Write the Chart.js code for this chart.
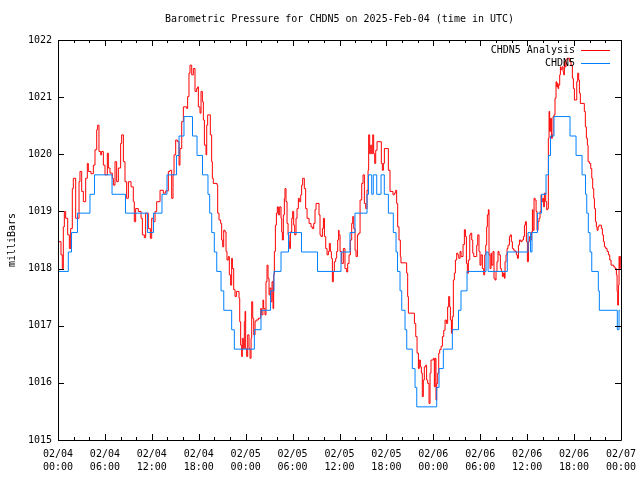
<!DOCTYPE html>
<html>
<head>
<meta charset="utf-8">
<script src="https://cdn.jsdelivr.net/npm/chart.js@4.4.1/dist/chart.umd.min.js"></script>
<style>
  html, body { margin: 0; padding: 0; background: #fff; }
  #wrap { width: 640px; height: 480px; }
</style>
</head>
<body>
<div id="wrap"><canvas id="pressureChart" width="640" height="480"></canvas></div>
<script>
// Barometric pressure, CHDN5, 3 days from 2025-02-04 00:00 UTC.
// x values are hours since 02/04 00:00, y values are millibars.

const chartTitle = 'Barometric Pressure for CHDN5 on 2025-Feb-04 (time in UTC)';
const yLabel = 'milliBars';
const seriesNames = ['CHDN5 Analysis', 'CHDN5'];

const tickDates = ['02/04', '02/04', '02/04', '02/04', '02/05', '02/05', '02/05', '02/05',
  '02/06', '02/06', '02/06', '02/06', '02/07'];
const tickTimes = ['00:00', '06:00', '12:00', '18:00', '00:00', '06:00', '12:00', '18:00',
  '00:00', '06:00', '12:00', '18:00', '00:00'];

// CHDN5 Analysis (red)
const analysisHours = [
  0.00, 0.38, 0.55, 0.68, 0.81, 0.98, 1.24, 1.45, 1.62, 1.83, 1.96, 2.26, 2.69, 2.81, 3.03, 3.24,
  3.54, 3.75, 3.88, 4.22, 4.52, 4.73, 4.95, 5.07, 5.24, 5.46, 5.58, 5.80, 6.01, 6.31, 6.44, 6.65,
  6.95, 7.08, 7.29, 7.50, 7.72, 8.01, 8.14, 8.36, 8.57, 8.78, 9.00, 9.34, 9.63, 9.76, 9.93, 10.27,
  10.62, 10.79, 11.04, 11.21, 11.55, 11.81, 11.98, 12.19, 12.41, 12.62, 13.05, 13.47, 13.77, 14.11,
  14.32, 14.54, 14.71, 14.84, 15.05, 15.26, 15.48, 15.60, 15.82, 16.03, 16.46, 16.58, 16.75, 16.88,
  17.10, 17.31, 17.52, 17.73, 17.86, 17.95, 18.16, 18.29, 18.46, 18.59, 18.72, 18.93, 19.02, 19.14,
  19.48, 19.65, 19.74, 19.86, 20.34, 20.42, 20.59, 20.80, 20.93, 21.06, 21.19, 21.36, 21.49, 21.61,
  21.78, 21.91, 22.08, 22.21, 22.30, 22.47, 22.64, 22.81, 23.15, 23.24, 23.36, 23.49, 23.57, 23.70,
  23.83, 23.92, 24.00, 24.13, 24.26, 24.43, 24.56, 24.69, 24.77, 24.90, 25.03, 25.20, 25.32, 25.62,
  25.92, 26.04, 26.21, 26.30, 26.47, 26.60, 26.73, 26.86, 26.99, 27.11, 27.24, 27.37, 27.50, 27.58,
  27.67, 27.80, 27.93, 28.05, 28.18, 28.35, 28.52, 28.61, 28.69, 28.82, 28.95, 29.03, 29.16, 29.29,
  29.42, 29.54, 29.63, 29.72, 29.89, 30.01, 30.14, 30.27, 30.44, 30.57, 30.74, 30.86, 31.04, 31.16,
  31.29, 31.50, 31.67, 31.85, 32.11, 32.36, 32.53, 32.70, 32.87, 33.00, 33.38, 33.51, 33.64, 33.81,
  33.94, 34.07, 34.24, 34.41, 34.58, 34.70, 34.83, 34.96, 35.09, 35.21, 35.34, 35.51, 35.64, 35.77,
  35.89, 35.94, 36.07, 36.28, 36.49, 36.70, 36.92, 37.05, 37.22, 37.39, 37.56, 37.69, 37.82, 37.99,
  38.12, 38.29, 38.45, 38.63, 38.84, 39.01, 39.18, 39.35, 39.52, 39.65, 39.73, 39.86, 39.99, 40.12,
  40.25, 40.37, 40.50, 40.63, 40.80, 41.35, 41.48, 41.61, 41.74, 42.25, 42.46, 42.84, 43.01, 43.18,
  43.31, 43.44, 43.61, 43.78, 43.86, 44.59, 44.72, 44.81, 45.58, 45.75, 45.92, 46.09, 46.21, 46.34,
  46.47, 46.59, 46.72, 46.85, 47.02, 47.14, 47.28, 47.45, 47.58, 47.70, 48.00, 48.13, 48.22, 48.34,
  48.43, 48.56, 48.69, 48.81, 48.99, 49.16, 49.33, 49.50, 49.67, 49.83, 49.96, 50.09, 50.18, 50.31,
  50.43, 50.56, 50.69, 50.82, 50.99, 51.12, 51.25, 51.42, 51.55, 51.80, 51.97, 52.10, 52.23, 52.35,
  52.48, 52.66, 52.78, 52.91, 53.04, 53.17, 53.55, 53.68, 53.84, 53.97, 54.10, 54.27, 54.44, 54.57,
  54.70, 54.82, 54.91, 55.04, 55.12, 55.25, 55.38, 55.46, 55.63, 55.76, 55.89, 56.02, 56.14, 56.27,
  56.40, 56.57, 56.70, 56.83, 56.96, 57.09, 57.17, 57.30, 57.43, 57.55, 57.73, 57.85, 57.98, 58.11,
  58.28, 58.45, 58.62, 58.75, 58.88, 59.01, 59.18, 59.35, 59.52, 59.65, 59.77, 59.90, 60.03, 60.16,
  60.28, 60.41, 60.54, 60.67, 60.75, 60.88, 61.01, 61.14, 61.26, 61.39, 61.52, 61.65, 61.77, 61.86,
  61.99, 62.11, 62.20, 62.37, 62.50, 62.63, 62.71, 62.80, 62.88, 62.97, 63.10, 63.22, 63.31, 63.43,
  63.56, 63.69, 63.78, 63.86, 63.95, 64.03, 64.16, 64.25, 64.33, 64.46, 64.59, 64.67, 64.76, 64.84,
  64.97, 65.10, 65.44, 65.61, 65.78, 65.91, 66.04, 66.34, 66.46, 66.59, 66.68, 66.80, 67.31, 67.44,
  67.57, 67.70, 67.79, 67.96, 68.13, 68.26, 68.38, 68.51, 68.60, 68.73, 68.85, 68.94, 69.07, 69.19,
  69.49, 69.62, 69.75, 69.88, 70.05, 70.22, 70.39, 70.56, 70.73, 71.07, 71.24, 71.41, 71.50, 71.58,
  71.67, 71.75, 71.84, 71.90
];
const analysisValues = [
  1018.47, 1018.24, 1018.00, 1018.73, 1019.00, 1018.88, 1018.59, 1018.35, 1018.70, 1019.40, 1019.58, 1018.88, 1019.52, 1019.70, 1019.35, 1019.17,
  1019.58, 1019.84, 1019.70, 1019.66, 1019.81, 1020.08, 1020.43, 1020.51, 1020.05, 1019.99, 1020.05, 1019.81, 1019.64, 1020.02, 1019.76, 1019.67,
  1019.58, 1019.46, 1019.87, 1019.52, 1019.76, 1020.19, 1020.34, 1019.87, 1019.52, 1019.23, 1019.52, 1019.43, 1019.17, 1018.82, 1019.05, 1019.00,
  1018.88, 1018.59, 1018.54, 1018.97, 1018.70, 1018.53, 1018.88, 1018.82, 1019.00, 1019.17, 1019.37, 1019.32, 1019.36, 1019.70,
  1019.72, 1019.23, 1019.64, 1019.99, 1020.25, 1020.22, 1019.81, 1020.10, 1020.57, 1020.83, 1020.80, 1021.01, 1021.42, 1021.56,
  1021.39, 1021.50, 1021.10, 1021.15, 1021.18, 1020.83, 1020.72, 1021.10, 1020.92, 1020.60, 1020.16, 1019.99, 1020.51, 1020.69,
  1020.34, 1019.87, 1019.58, 1019.49, 1019.46, 1018.97, 1018.85, 1018.79, 1018.50, 1018.38, 1018.67, 1018.64, 1018.30, 1018.15,
  1018.21, 1017.89, 1017.71, 1018.18, 1018.00, 1017.63, 1017.51, 1017.60, 1017.48, 1017.07, 1016.66, 1016.46, 1016.78, 1016.60,
  1017.07, 1017.25, 1016.60, 1016.46, 1016.84, 1016.60, 1016.43, 1016.78, 1017.42, 1017.13, 1016.84, 1017.07, 1017.10, 1017.13,
  1017.30, 1017.19, 1017.45, 1017.30, 1017.19, 1017.77, 1018.06, 1017.83, 1017.54, 1017.66, 1017.42, 1017.77, 1017.30, 1017.89,
  1018.30, 1018.76, 1018.97, 1019.08, 1018.94, 1019.08, 1018.88, 1018.64, 1018.50, 1018.94, 1019.23, 1019.40, 1019.17, 1018.79,
  1018.59, 1018.47, 1018.35, 1018.64, 1018.88, 1019.00, 1018.76, 1018.59, 1018.88, 1019.05, 1019.23, 1019.17, 1019.29, 1019.46,
  1019.58, 1019.40, 1019.05, 1018.88, 1018.79, 1018.73, 1018.70, 1018.79, 1019.03, 1019.14, 1018.94, 1018.59, 1018.56, 1018.70,
  1018.88, 1018.56, 1018.35, 1018.24, 1018.30, 1018.44, 1018.30, 1018.18, 1017.77, 1017.95, 1018.12, 1018.18, 1018.30, 1018.50,
  1018.67, 1018.59, 1018.30, 1018.09, 1018.35, 1018.00, 1017.94, 1018.09, 1018.24, 1018.50, 1018.79, 1018.91, 1018.70, 1018.32,
  1018.21, 1018.59, 1018.62, 1019.20, 1019.49, 1019.64, 1019.14, 1019.05, 1019.37, 1019.72, 1020.34, 1020.01, 1020.16, 1020.01,
  1020.34, 1020.01, 1019.84, 1020.07, 1020.22, 1019.84, 1019.72, 1019.84, 1020.10, 1019.72, 1019.35, 1019.29, 1019.32, 1019.37,
  1019.14, 1018.73, 1018.50, 1018.21, 1018.10, 1017.92, 1017.51, 1017.22, 1017.04, 1016.81, 1016.52, 1016.25, 1016.40, 1016.28,
  1016.17, 1015.76, 1016.05, 1016.28, 1016.31, 1016.05, 1015.99, 1015.64, 1016.17, 1016.40, 1016.43, 1015.93, 1016.43, 1015.70,
  1015.99, 1016.17, 1016.52, 1016.58, 1016.64, 1016.81, 1016.92, 1017.10, 1017.04, 1017.33, 1017.51, 1017.33, 1017.10, 1016.87,
  1017.16, 1017.80, 1017.92, 1018.15, 1018.27, 1018.24, 1018.18, 1018.30, 1018.21, 1018.42, 1018.68, 1018.56, 1018.09, 1017.92,
  1018.15, 1018.59, 1018.62, 1018.50, 1018.27, 1018.21, 1018.41, 1018.59, 1018.30, 1018.06, 1018.24, 1018.00, 1017.89, 1018.24,
  1018.41, 1018.73, 1018.94, 1019.03, 1018.24, 1018.00, 1018.27, 1018.06, 1018.30, 1017.83, 1017.80, 1017.95, 1018.12, 1018.30,
  1018.24, 1018.00, 1017.95, 1017.86, 1017.92, 1017.83, 1018.12, 1018.24, 1018.35, 1018.41, 1018.56, 1018.59, 1018.47, 1018.35,
  1018.32, 1018.30, 1018.24, 1018.18, 1018.41, 1018.50, 1018.47, 1018.50, 1018.56, 1018.76, 1018.82, 1018.47, 1018.12, 1018.47,
  1018.56, 1018.50, 1018.64, 1019.03, 1018.67, 1019.23, 1019.20, 1019.00, 1018.67, 1018.82, 1018.88, 1019.00, 1019.29, 1019.17,
  1019.23, 1019.08, 1019.32, 1019.17, 1019.03, 1019.05, 1020.28, 1020.75, 1020.40, 1020.63, 1020.28, 1020.34, 1020.66, 1020.69,
  1020.98, 1021.27, 1021.18, 1021.24, 1021.15, 1021.21, 1021.39, 1021.53, 1021.48, 1021.53, 1021.45, 1021.39, 1021.62, 1021.53,
  1021.65, 1021.68, 1021.62, 1021.56, 1021.33, 1021.15, 1020.95, 1021.27, 1021.42, 1021.30, 1021.07, 1020.89, 1020.75, 1020.48,
  1020.28, 1020.16, 1019.87, 1019.84, 1019.75, 1019.58, 1019.40, 1019.23, 1019.05, 1018.82, 1018.73, 1018.67, 1018.73, 1018.76,
  1018.70, 1018.59, 1018.47, 1018.38, 1018.35, 1018.30, 1018.24, 1018.15, 1018.06, 1018.03, 1018.00, 1017.89, 1017.60, 1017.36,
  1017.71, 1018.21, 1018.00, 1018.22
];

// CHDN5 station (blue), change points of a stepped reading
const stationHours = [
  0.00, 1.32, 1.73, 2.49, 4.09, 4.67, 6.91, 8.63, 11.45, 12.21, 13.30, 13.94, 15.16, 15.48, 16.11, 17.20,
  17.78, 18.48, 19.18, 19.40, 19.66, 19.99, 20.30, 20.85, 21.20, 22.21, 22.55, 25.11, 25.96, 27.18, 27.62, 28.52,
  29.48, 31.14, 33.19, 36.19, 37.34, 37.98, 39.52, 39.71, 40.12, 40.32, 40.76, 41.31, 41.73, 42.25, 42.88, 43.23,
  43.42, 43.74, 43.96, 44.38, 44.60, 45.31, 45.66, 45.88, 48.43, 48.73, 49.28, 50.43, 51.22, 51.54, 52.31, 54.74,
  55.00, 57.46, 60.11, 60.43, 60.62, 61.32, 61.84, 62.41, 62.73, 62.99, 63.43, 65.48, 66.25, 67.02, 67.46, 67.62,
  67.82, 68.04, 68.26, 69.10, 69.23, 71.53, 71.75, 71.87
];
const stationValues = [
  1017.95, 1018.29, 1018.63, 1018.97, 1019.30, 1019.64, 1019.30, 1018.97, 1018.63, 1018.97, 1019.30, 1019.64, 1019.98, 1020.32, 1020.66, 1020.32,
  1019.98, 1019.64, 1019.30, 1018.97, 1018.63, 1018.29, 1017.95, 1017.61, 1017.27, 1016.93, 1016.59, 1016.93, 1017.27, 1017.61, 1017.95, 1018.29,
  1018.63, 1018.29, 1017.95, 1018.29, 1018.63, 1018.97, 1019.30, 1019.64, 1019.30, 1019.64, 1019.30, 1019.64, 1019.30, 1018.97, 1018.63, 1018.29,
  1017.95, 1017.61, 1017.27, 1016.93, 1016.59, 1016.25, 1015.92, 1015.58, 1015.92, 1016.25, 1016.59, 1016.93, 1017.27, 1017.61, 1017.95, 1018.29,
  1017.95, 1018.29, 1018.63, 1018.29, 1018.63, 1018.97, 1019.30, 1019.64, 1019.98, 1020.32, 1020.66, 1020.32, 1019.98, 1019.64, 1019.30, 1018.97,
  1018.63, 1018.29, 1017.95, 1017.61, 1017.27, 1016.93, 1017.27, 1017.27
];

const FONT = '"DejaVu Sans Mono", "Liberation Mono", monospace';

function toPoints(xs, ys) {
  return xs.map((x, i) => ({ x: x, y: ys[i] }));
}

// frame, inward tick marks, title and key, drawn in gnuplot style
const gnuplotDecor = {
  id: 'gnuplotDecor',
  afterDraw(chart) {
    const ctx = chart.ctx;
    const area = chart.chartArea;
    const xs = chart.scales.x;
    const ys = chart.scales.y;
    ctx.save();
    ctx.strokeStyle = '#000';
    ctx.lineWidth = 1;
    ctx.beginPath();
    ctx.rect(Math.round(area.left) + 0.5, Math.round(area.top) + 0.5,
      Math.round(area.right - area.left), Math.round(area.bottom - area.top));
    ctx.stroke();

    ctx.beginPath();
    for (let h = 0; h <= 72; h += 2) {
      const px = Math.round(xs.getPixelForValue(h)) + 0.5;
      const len = h % 6 === 0 ? 6 : 3;
      ctx.moveTo(px, area.bottom);
      ctx.lineTo(px, area.bottom - len);
      ctx.moveTo(px, area.top);
      ctx.lineTo(px, area.top + len);
    }
    for (let v = 1015; v <= 1022; v++) {
      const py = Math.round(ys.getPixelForValue(v)) + 0.5;
      ctx.moveTo(area.left, py);
      ctx.lineTo(area.left + 6, py);
      ctx.moveTo(area.right, py);
      ctx.lineTo(area.right - 6, py);
    }
    ctx.stroke();

    ctx.fillStyle = '#000';
    ctx.font = '10px ' + FONT;
    ctx.textAlign = 'center';
    ctx.textBaseline = 'middle';
    ctx.fillText(chartTitle, (area.left + area.right) / 2, 19);

    // key in the upper right corner
    const keyColors = ['#ff0000', '#0080ff'];
    ctx.textAlign = 'right';
    seriesNames.forEach((name, i) => {
      const y = 50 + i * 13;
      ctx.fillStyle = '#000';
      ctx.fillText(name, area.right - 46, y);
      ctx.strokeStyle = keyColors[i];
      ctx.beginPath();
      ctx.moveTo(area.right - 40, y + 0.5);
      ctx.lineTo(area.right - 11, y + 0.5);
      ctx.stroke();
    });
    ctx.restore();
  }
};

new Chart(document.getElementById('pressureChart'), {
  type: 'line',
  data: {
    datasets: [
      {
        label: seriesNames[0],
        data: toPoints(analysisHours, analysisValues),
        borderColor: '#ff0000',
        borderWidth: 1,
        pointRadius: 0,
        stepped: true,
        fill: false,
        order: 1
      },
      {
        label: seriesNames[1],
        data: toPoints(stationHours, stationValues),
        borderColor: '#0080ff',
        borderWidth: 1,
        pointRadius: 0,
        stepped: true,
        fill: false,
        order: 0
      }
    ]
  },
  options: {
    responsive: false,
    animation: false,
    layout: { padding: { left: 0, right: 19, top: 40, bottom: 0 } },
    plugins: {
      legend: { display: false },
      title: { display: false },
      tooltip: { enabled: false }
    },
    scales: {
      x: {
        type: 'linear',
        min: 0,
        max: 72,
        grid: { display: false, drawTicks: false, tickLength: 0 },
        border: { display: false },
        ticks: {
          stepSize: 6,
          autoSkip: false,
          maxRotation: 0,
          padding: 8,
          color: '#000',
          font: { family: FONT, size: 10, lineHeight: 1.3 },
          callback: function (value, index) {
            return [tickDates[index], tickTimes[index]];
          }
        },
        afterFit: function (scale) {
          scale.height = 40;
          scale.paddingLeft = 0;
          scale.paddingRight = 0;
        }
      },
      y: {
        min: 1015,
        max: 1022,
        grid: { display: false, drawTicks: false, tickLength: 0 },
        border: { display: false },
        ticks: {
          stepSize: 1,
          padding: 6,
          color: '#000',
          font: { family: FONT, size: 10 },
          callback: function (value) { return String(value); }
        },
        title: {
          display: true,
          text: yLabel,
          color: '#000',
          font: { family: FONT, size: 10 },
          padding: { top: 6, bottom: 0 }
        },
        afterFit: function (scale) {
          scale.width = 58;
          scale.paddingTop = 0;
          scale.paddingBottom = 0;
        }
      }
    }
  },
  plugins: [gnuplotDecor]
});
</script>
</body>
</html>
